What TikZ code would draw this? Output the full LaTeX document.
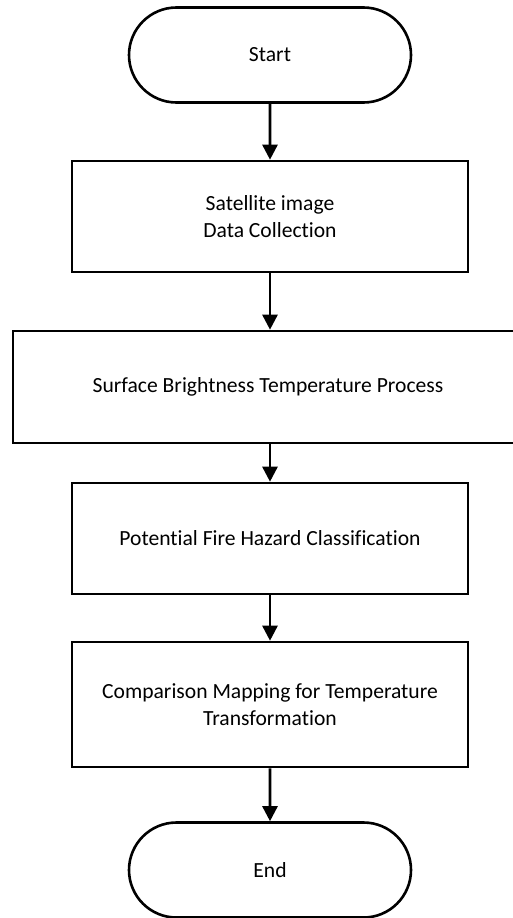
\documentclass[tikz,border=0pt]{standalone}
\usepackage{fontspec}
\setmainfont[Ligatures=NoCommon]{Carlito}
\usetikzlibrary{arrows.meta,shapes.misc}

\tikzset{
  terminal/.style={draw, rounded rectangle, minimum width=282pt, minimum height=95pt, inner sep=0pt},
  process/.style={draw, rectangle, minimum width=396pt, minimum height=111pt, inner sep=0pt, align=center},
}

\begin{document}
\begin{tikzpicture}[x=1pt, y=-1pt, line width=2.6pt, line join=miter, >={Triangle[width=15pt,length=15pt]}, font=\fontsize{21.6}{27}\selectfont]
  \useasboundingbox (0,0) rectangle (513,918);

  % Start and end
  \node[terminal] (start) at (270,55) {Start};
  \node[terminal] (end) at (270,870) {End};

  % Processing steps
  \node[process] (collect) at (270,216.5) {Satellite image\\Data Collection};
  \node[process, minimum width=510pt, minimum height=112pt] (surface) at (268,387) {Surface Brightness Temperature Process};
  \node[process] (hazard) at (270,538.5) {Potential Fire Hazard Classification};
  \node[process, minimum height=125pt] (mapping) at (270,704.5) {Comparison Mapping for Temperature\\Transformation};

  % Arrows
  \draw[->] (start) -- (collect);
  \draw[->] (collect.south) -- (collect.south |- surface.north);
  \draw[->] (surface.south -| hazard.north) -- (hazard.north);
  \draw[->] (hazard) -- (mapping);
  \draw[->] (mapping) -- (end);
\end{tikzpicture}
\end{document}
